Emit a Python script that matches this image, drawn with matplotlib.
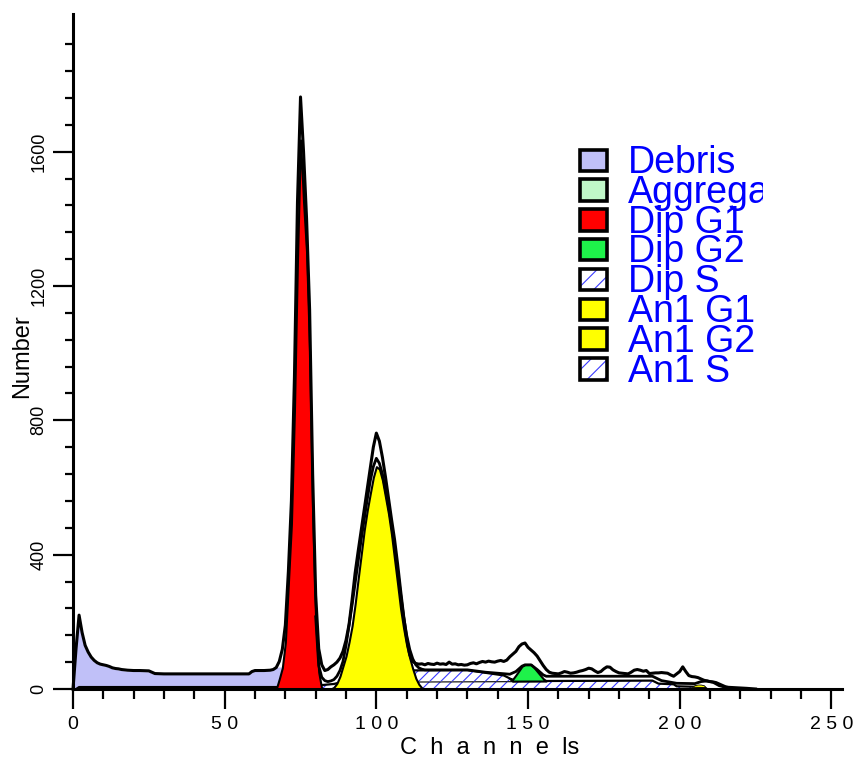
"""DNA content histogram with fitted cell-cycle components (diploid + aneuploid)."""

import matplotlib

matplotlib.use("Agg")
import matplotlib.pyplot as plt
import numpy as np
from matplotlib.patches import Rectangle

plt.rcParams["font.family"] = ["Liberation Sans", "DejaVu Sans"]
plt.rcParams["hatch.linewidth"] = 0.8

# raw histogram (channel, count)
data_ch = [0, 1, 2, 3, 4, 5, 6, 7, 8, 9, 10, 11, 12, 13, 14, 15, 16, 17, 18, 20, 22, 25, 26, 27,
           30, 40, 50, 58, 59, 60, 63, 65, 66, 67, 68, 69, 70, 71, 72, 73, 74, 75, 76, 77, 78, 79,
           80, 81, 82, 83, 84, 85, 86, 87, 88, 89, 90, 91, 92, 93, 94, 95, 96, 97, 98, 99, 100,
           101, 102, 103, 104, 105, 106, 107, 108, 109, 110, 111, 112, 113, 114, 115, 116, 117,
           118, 119, 120, 121, 122, 123, 124, 125, 126, 127, 128, 129, 130, 131, 132, 133, 134,
           135, 136, 137, 138, 139, 140, 141, 142, 143, 144, 145, 146, 147, 148, 149, 150, 151,
           152, 153, 154, 155, 156, 157, 158, 159, 160, 161, 162, 163, 164, 165, 166, 167, 168,
           169, 170, 171, 172, 173, 174, 175, 176, 177, 178, 179, 180, 181, 182, 183, 184, 185,
           186, 187, 188, 189, 190, 191, 192, 193, 194, 195, 196, 197, 198, 199, 200, 201, 202,
           203, 204, 205, 206, 207, 208, 209, 210, 211, 212, 213, 214, 215, 216, 218, 220, 222, 225]
data_counts = [0, 120, 220, 168, 130, 110, 95, 85, 78, 74, 72, 70, 67, 63, 61, 60, 58, 57, 56, 55, 55, 54, 50, 46,
               45, 45, 45, 45, 52, 55, 55, 56, 58, 64, 82, 118, 190, 350, 560, 930, 1450, 1763, 1600, 1400, 1130, 640,
               280, 120, 72, 55, 58, 66, 72, 80, 92, 112, 145, 192, 265, 345, 410, 472, 532, 596, 660, 720, 762,
               738, 690, 632, 568, 505, 445, 372, 292, 216, 150, 102, 82, 76, 74, 75, 72, 76,
               74, 73, 77, 74, 75, 73, 80, 74, 75, 72, 73, 71, 72, 76, 78, 75, 79,
               82, 80, 83, 81, 80, 83, 85, 82, 86, 96, 104, 112, 126, 134, 137, 124, 116,
               108, 98, 84, 70, 58, 50, 47, 46, 45, 48, 52, 50, 47, 48, 50, 53, 55,
               58, 62, 60, 54, 49, 52, 60, 66, 65, 57, 52, 48, 47, 46, 45, 50, 56,
               58, 56, 53, 55, 46, 47, 48, 48, 49, 48, 47, 42, 38, 45, 52, 66, 52,
               40, 37, 36, 34, 30, 26, 24, 22, 21, 19, 15, 11, 7, 5, 4, 3, 2, 0]

# model fit envelope
fit_ch = [80, 81, 82, 83, 84, 85, 86, 87, 88, 89, 90, 91, 92, 93, 94, 95, 96, 97, 98, 99, 100,
          101, 102, 103, 104, 105, 106, 107, 108, 109, 110, 111, 112, 113, 114, 115, 116, 130,
          136, 144, 146, 148, 149, 151, 153, 155, 156, 191, 194, 199, 205, 207, 209, 211, 213, 216, 220]
fit_counts = [215, 70, 35, 25, 22, 24, 28, 38, 55, 82, 130, 190, 250, 315, 380, 445, 505, 565, 620, 662, 687,
              672, 640, 595, 545, 490, 425, 355, 282, 215, 160, 118, 90, 72, 63, 59, 57, 57,
              50, 44, 52, 68, 72, 72, 58, 42, 38, 38, 25, 17, 16, 22, 24, 20, 10, 3, 0]

debris_ch = [0, 1, 2, 3, 4, 5, 6, 7, 8, 9, 10, 11, 12, 13, 14, 15, 16, 17, 18, 20, 25, 26, 27,
             58, 59, 60, 65, 66, 67, 68, 70, 71]
debris_counts = [0, 110, 212, 160, 124, 104, 90, 80, 74, 70, 68, 66, 63, 59, 57, 56, 54, 53, 52, 51, 50, 46, 42,
                 42, 49, 52, 54, 57, 62, 64, 64, 0]

aggr_ch = [1, 2, 68, 69]
aggr_counts = [0, 6, 6, 0]

dip_g1_ch = [67, 68, 69, 70, 71, 72, 73, 74, 75, 76, 77, 78, 79, 80, 81, 82]
dip_g1_counts = [0, 30, 63, 139, 315, 491, 829, 1279, 1635, 1450, 1300, 1000, 520, 200, 50, 0]

dip_g2_ch = [144, 145, 146, 147, 148, 149, 150, 151, 152, 153, 154, 155, 156]
dip_g2_counts = [0, 6, 18, 31, 44, 49, 49, 49, 40, 29, 18, 7, 0]

dip_s_ch = [78, 80, 86, 100, 110, 130, 136, 142, 144, 145]
dip_s_counts = [0, 10, 15, 24, 33, 33, 25, 17, 8, 0]

an1_g1_ch = [85, 86, 87, 88, 89, 90, 91, 92, 93, 94, 95, 96, 97, 98, 99, 100,
             101, 102, 103, 104, 105, 106, 107, 108, 109, 110, 111, 112, 113, 114, 115, 116]
an1_g1_counts = [0, 5, 17, 38, 68, 98, 140, 188, 253, 328, 400, 473, 532, 582, 630, 662,
                 655, 622, 572, 522, 460, 386, 313, 238, 180, 130, 92, 60, 32, 14, 3, 0]

an1_g2_ch = [204, 205, 206, 207, 208, 209]
an1_g2_counts = [0, 5, 7, 7, 5, 0]

an1_s_ch = [99, 100, 191, 193, 198, 199, 208, 209]
an1_s_counts = [0, 22, 25, 16, 14, 8, 6, 0]

legend_names = ["Debris", "Aggregates", "Dip G1", "Dip G2", "Dip S", "An1 G1", "An1 G2", "An1 S"]
legend_colors = ["#C0C0F8", "#C0F8C8", "#FF0000", "#1EF24A", None, "#FFFF00", "#FFFF00", None]

x_major = [0, 50, 100, 150, 200, 250]
y_major = [0, 400, 800, 1200, 1600]

HATCH_BLUE = "#3A3AFF"

fig = plt.figure(figsize=(8.61, 7.6), dpi=100)
ax = fig.add_axes([73 / 861, 71 / 760, (842 - 73) / 861, (689 - 14) / 760])
ax.set_xlim(0, 253.5)
ax.set_ylim(0, 2010)

# debris + aggregates
ax.fill_between(debris_ch, 0, debris_counts, facecolor="#C0C0F8", linewidth=0, zorder=1)
ax.fill_between(aggr_ch, 0, aggr_counts, facecolor="#C0F8C8", linewidth=0, zorder=1.1)
ax.plot(aggr_ch, aggr_counts, color="black", lw=1.5, zorder=1.2)

# S-phase bands, stacked: An1 S below, Dip S on top
an1_s_x = np.array(an1_s_ch, dtype=float)
ax.fill_between(an1_s_x, 0, an1_s_counts, facecolor="white", edgecolor=HATCH_BLUE,
                hatch="///", linewidth=0, zorder=2)
ax.plot(an1_s_x, an1_s_counts, color="black", lw=1.6, zorder=2.1)

dip_s_x = np.array(dip_s_ch, dtype=float)
dip_s_base = np.interp(dip_s_x, an1_s_ch, an1_s_counts)
dip_s_top = dip_s_base + np.array(dip_s_counts)
ax.fill_between(dip_s_x, dip_s_base, dip_s_top, facecolor="white", edgecolor=HATCH_BLUE,
                hatch="///", linewidth=0, zorder=2.2)
ax.plot(dip_s_x, dip_s_top, color="black", lw=1.6, zorder=2.3)

# Dip G2 sits on the S-phase stack
g2_x = np.array(dip_g2_ch, dtype=float)
g2_base = np.interp(g2_x, an1_s_ch, an1_s_counts) + np.interp(g2_x, dip_s_ch, dip_s_counts, left=0, right=0)
ax.fill_between(g2_x, g2_base, g2_base + np.array(dip_g2_counts), facecolor="#1EF24A",
                edgecolor="black", linewidth=1.5, zorder=3)

# An1 G2 (tiny) on top of An1 S
ag2_x = np.array(an1_g2_ch, dtype=float)
ag2_base = np.interp(ag2_x, an1_s_ch, an1_s_counts)
ax.fill_between(ag2_x, ag2_base, ag2_base + np.array(an1_g2_counts), facecolor="#FFFF00",
                edgecolor="black", linewidth=0.6, zorder=3)

# G1 peaks
ax.fill_between(dip_g1_ch, 0, dip_g1_counts, facecolor="#FF0000", edgecolor="black",
                linewidth=1.5, zorder=4)
ax.fill_between(an1_g1_ch, 0, an1_g1_counts, facecolor="#FFFF00", edgecolor="black",
                linewidth=1.5, zorder=4)

# fit envelope and raw data
ax.plot(fit_ch, fit_counts, color="black", lw=2.0, zorder=5, solid_joinstyle="round")
ax.plot(data_ch, data_counts, color="black", lw=2.2, zorder=6, clip_on=False,
        solid_joinstyle="round")

for side in ("top", "right"):
    ax.spines[side].set_visible(False)
for side in ("left", "bottom"):
    ax.spines[side].set_linewidth(2.2)
    ax.spines[side].set_zorder(7)

ax.set_xticks(x_major)
ax.set_xticks(np.arange(0, 251, 10), minor=True)
ax.set_xticklabels([" ".join(str(v)) for v in x_major], fontsize=14)
ax.set_yticks(y_major)
ax.set_yticks(np.arange(0, 1921, 80), minor=True)
ax.set_yticklabels([str(v) for v in y_major], fontsize=13, rotation=90, va="center")
ax.tick_params(axis="x", which="major", length=14.5, width=1.6, pad=5)
ax.tick_params(axis="x", which="minor", length=7.5, width=1.6)
ax.tick_params(axis="y", which="major", length=14.5, width=1.6, pad=4)
ax.tick_params(axis="y", which="minor", length=6, width=1.6)

fig.text(400 / 861, 1 - 754 / 760, "C  h  a  n  n  e  ls", fontsize=17, ha="left", va="baseline")
fig.text(22 / 861, 1 - 356 / 760, "Number", fontsize=17, rotation=90, ha="center", va="center")

# legend panel, clipped on the right edge
lax = fig.add_axes([560 / 861, 1 - 392 / 760, (763 - 560) / 861, (392 - 140) / 760])
lax.set_xlim(560, 763)
lax.set_ylim(392, 140)
lax.axis("off")
for i, (name, color) in enumerate(zip(legend_names, legend_colors)):
    top = 149.5 + i * 29.8
    if color is None:
        lax.add_patch(Rectangle((580, top), 27, 21.5, facecolor="white", edgecolor=HATCH_BLUE,
                                hatch="//", linewidth=0))
        lax.add_patch(Rectangle((580, top), 27, 21.5, facecolor="none", edgecolor="black",
                                linewidth=2.6))
    else:
        lax.add_patch(Rectangle((580, top), 27, 21.5, facecolor=color, edgecolor="black",
                                linewidth=2.6))
    lax.text(628, top + 23.5, name, fontsize=27, color="#0000FF", ha="left", va="baseline",
             clip_on=True)

fig.savefig("out.png", dpi=100)
